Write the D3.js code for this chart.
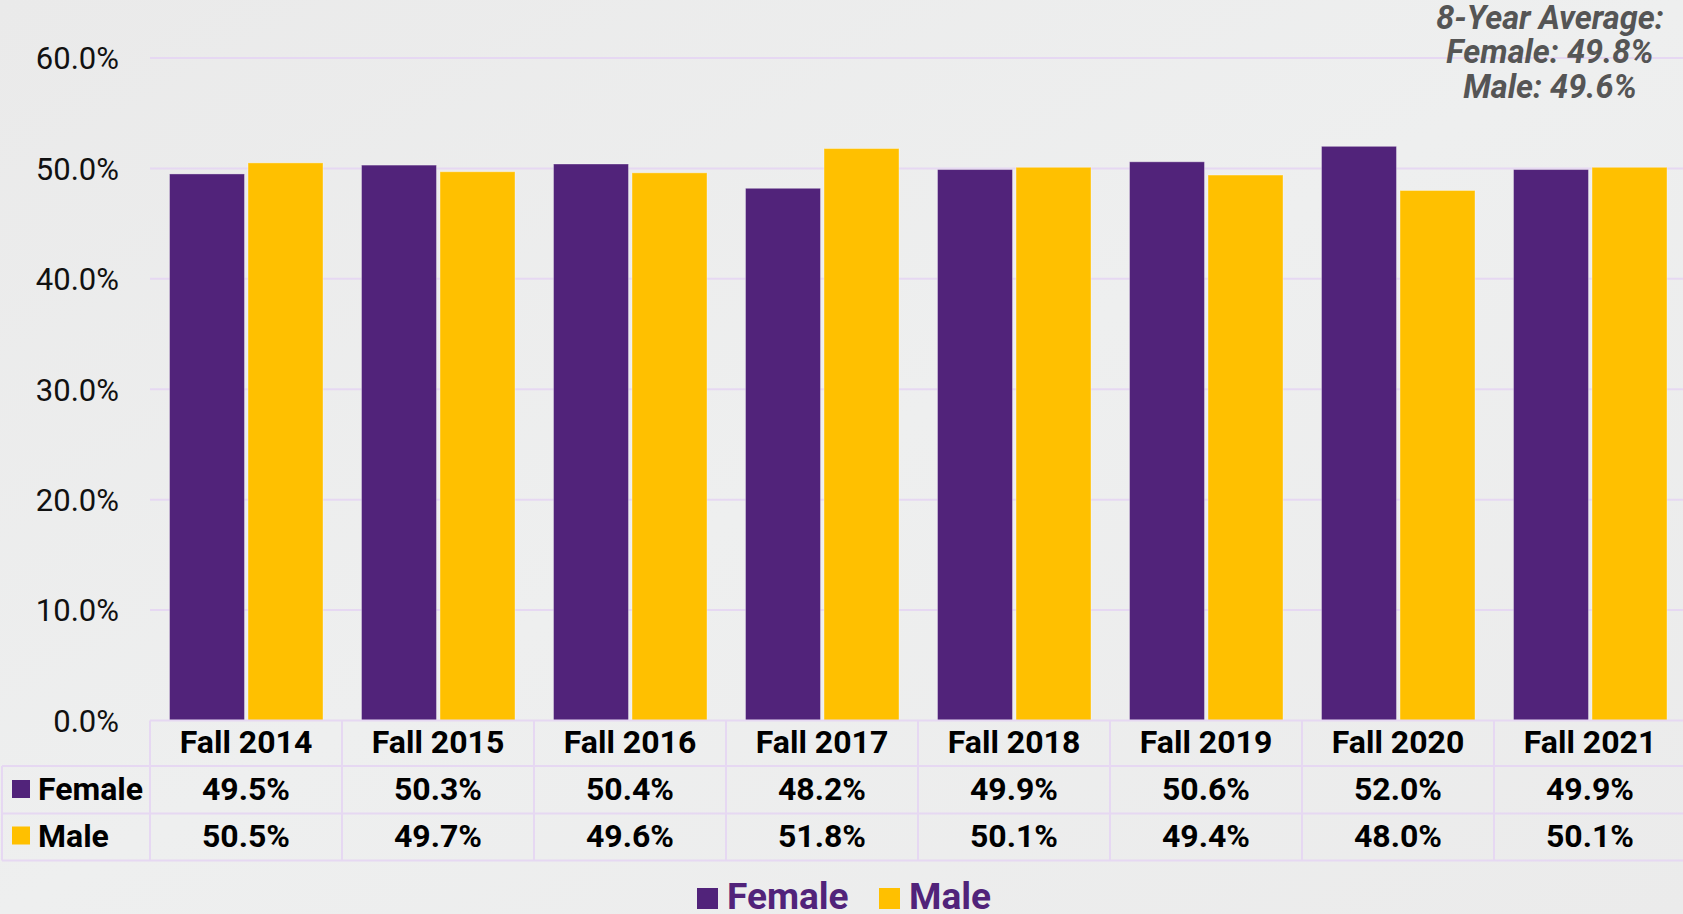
<!DOCTYPE html>
<html>
<head>
<meta charset="utf-8">
<script src="https://cdn.jsdelivr.net/npm/d3@7"></script>
<style>
  html, body { margin: 0; padding: 0; overflow: hidden; }
  body { background: #ededed; font-family: Roboto, "Noto Sans", sans-serif; }
</style>
</head>
<body>
<svg id="chart"></svg>
<script>
const terms = ['Fall 2014', 'Fall 2015', 'Fall 2016', 'Fall 2017', 'Fall 2018', 'Fall 2019', 'Fall 2020', 'Fall 2021'];
const female = [49.5, 50.3, 50.4, 48.2, 49.9, 50.6, 52.0, 49.9];
const male = [50.5, 49.7, 49.6, 51.8, 50.1, 49.4, 48.0, 50.1];
const yTicks = [0, 10, 20, 30, 40, 50, 60];
const averageLines = ['8-Year Average:', 'Female: 49.8%', 'Male: 49.6%'];

const series = [
    { name: 'Female', values: female, color: '#51237a' },
    { name: 'Male', values: male, color: '#ffc000' }
];

const width = 1683;
const height = 914;
const gridColor = '#e6d8f2';

const svg = d3.select('#chart')
    .attr('width', width)
    .attr('height', height);

// soft background
const grad = svg.append('defs').append('linearGradient')
    .attr('id', 'bg')
    .attr('x1', '0%').attr('y1', '0%')
    .attr('x2', '100%').attr('y2', '100%');
grad.append('stop').attr('offset', '0%').attr('stop-color', '#eaeaea');
grad.append('stop').attr('offset', '50%').attr('stop-color', '#eeefef');
grad.append('stop').attr('offset', '100%').attr('stop-color', '#ebebeb');
svg.append('rect').attr('width', width).attr('height', height).attr('fill', 'url(#bg)');

const x = d3.scaleBand()
    .domain(terms)
    .range([150, 1686]);

const x1 = d3.scaleBand()
    .domain(series.map(s => s.name))
    .range([19.5, x.bandwidth() - 19])
    .paddingInner(0.045);

const y = d3.scaleLinear()
    .domain([0, 60])
    .range([720.5, 58]);

// gridlines
svg.append('g')
    .selectAll('line')
    .data(yTicks.filter(t => t > 0))
    .enter()
    .append('line')
    .attr('x1', 150)
    .attr('x2', width)
    .attr('y1', d => y(d))
    .attr('y2', d => y(d))
    .attr('stroke', gridColor)
    .attr('stroke-width', 2);

// y axis labels
const yAxis = d3.axisLeft(y)
    .tickValues(yTicks)
    .tickFormat(d => d3.format('.1f')(d) + '%')
    .tickSize(0)
    .tickPadding(0);

svg.append('g')
    .attr('transform', 'translate(119,0)')
    .call(yAxis)
    .call(g => g.select('.domain').remove())
    .selectAll('text')
    .attr('dy', '0.35em')
    .style('font-family', 'Roboto')
    .style('font-size', '31px')
    .style('fill', '#111');

// bars
const groups = svg.append('g')
    .selectAll('g')
    .data(terms)
    .enter()
    .append('g')
    .attr('transform', d => `translate(${x(d)},0)`);

groups.selectAll('rect')
    .data((d, i) => series.map(s => ({ name: s.name, value: s.values[i], color: s.color })))
    .enter()
    .append('rect')
    .attr('x', d => x1(d.name))
    .attr('width', x1.bandwidth())
    .attr('y', d => y(d.value))
    .attr('height', d => y(0) - y(d.value))
    .attr('fill', d => d.color)
    .attr('stroke', 'rgba(255,255,255,0.35)')
    .attr('stroke-width', 1);

// data table
const rowTop = [720.5, 766, 813.5];
const rowBottom = 860.5;
const table = svg.append('g');

// horizontal lines
table.append('line')
    .attr('x1', 150).attr('x2', width)
    .attr('y1', rowTop[0]).attr('y2', rowTop[0]);
[rowTop[1], rowTop[2], rowBottom].forEach(yy => {
    table.append('line')
        .attr('x1', 2).attr('x2', width)
        .attr('y1', yy).attr('y2', yy);
});
// vertical lines
table.append('line')
    .attr('x1', 2).attr('x2', 2)
    .attr('y1', rowTop[1]).attr('y2', rowBottom);
terms.forEach(t => {
    table.append('line')
        .attr('x1', x(t)).attr('x2', x(t))
        .attr('y1', rowTop[0]).attr('y2', rowBottom);
});
table.selectAll('line')
    .attr('stroke', gridColor)
    .attr('stroke-width', 2);

// header text
table.selectAll('text.head')
    .data(terms)
    .enter()
    .append('text')
    .attr('class', 'head')
    .attr('x', d => x(d) + x.bandwidth() / 2)
    .attr('y', 753)
    .attr('text-anchor', 'middle')
    .style('font-family', 'Roboto')
    .style('font-weight', 'bold')
    .style('font-size', '32px')
    .style('fill', '#000')
    .text(d => d);

const rowBase = [800, 846.5];
series.forEach((s, r) => {
    table.append('rect')
        .attr('x', 12)
        .attr('y', rowBase[r] - 20)
        .attr('width', 18)
        .attr('height', 18)
        .attr('fill', s.color);
    table.append('text')
        .attr('x', 38)
        .attr('y', rowBase[r])
        .style('font-family', 'Roboto')
        .style('font-weight', 'bold')
        .style('font-size', '32px')
        .style('fill', '#000')
        .text(s.name);
    table.selectAll('text.v' + r)
        .data(s.values)
        .enter()
        .append('text')
        .attr('class', 'v' + r)
        .attr('x', (d, i) => x(terms[i]) + x.bandwidth() / 2)
        .attr('y', rowBase[r])
        .attr('text-anchor', 'middle')
        .style('font-family', 'Roboto')
        .style('font-weight', 'bold')
        .style('font-size', '32px')
        .style('fill', '#000')
        .text(d => d3.format('.1f')(d) + '%');
});

// average annotation
svg.append('g')
    .selectAll('text')
    .data(averageLines)
    .enter()
    .append('text')
    .attr('x', 1550)
    .attr('y', (d, i) => 28.5 + i * 34.5)
    .attr('text-anchor', 'middle')
    .style('font-family', 'Roboto')
    .style('font-weight', 'bold')
    .style('font-style', 'italic')
    .style('font-size', '32.5px')
    .style('fill', '#555')
    .text(d => d);

// bottom legend
const legendPos = [697, 879];
const legend = svg.append('g');
series.forEach((s, i) => {
    legend.append('rect')
        .attr('x', legendPos[i])
        .attr('y', 888)
        .attr('width', 21)
        .attr('height', 21)
        .attr('fill', s.color);
    legend.append('text')
        .attr('x', legendPos[i] + 30)
        .attr('y', 909)
        .style('font-family', 'Roboto')
        .style('font-weight', 'bold')
        .style('font-size', '37px')
        .style('fill', '#51237a')
        .text(s.name);
});
</script>
</body>
</html>
